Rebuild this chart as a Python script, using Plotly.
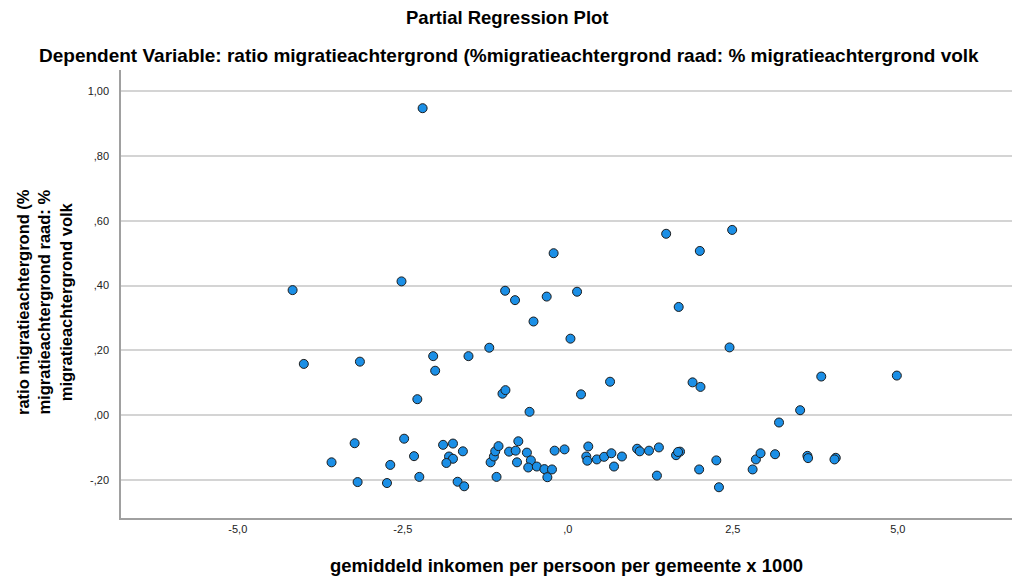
import plotly.graph_objects as go

# ---------------------------------------------------------------------------
# Data
# ---------------------------------------------------------------------------
inkomen = [
    -2.20, -4.17, -2.52, -0.215, -0.95, -0.80, -0.32, 0.14, -0.52, 0.04,
    -1.19, -2.04, -1.505, -4.00, -3.15, -2.01, -2.28, -0.99, -0.945, 0.20,
    -0.58, 1.49, 2.49, 2.00, 1.68, 2.45, 0.64, 1.89, 2.01, 3.84,
    4.985, 3.52, 3.20,
    1.70, 1.99, 2.25, 2.29, 2.80, 2.85, 2.92, 3.14, 3.63, 3.64,
    4.06, 4.04,
    -3.58, -3.23, -3.185, -2.69, -2.74, -2.48, -2.33, -2.25, -1.89, -1.74,
    -1.59, -1.80, -1.74, -1.84, -1.67, -1.57, -1.17, -1.12, -1.10, -1.05,
    -1.08,
    -0.89, -0.79, -0.75, -0.77, -0.62, -0.56, -0.60, -0.47, -0.355, -0.24,
    -0.31, -0.20, -0.05, 0.31, 0.28, 0.295, 0.44, 0.55, 0.66, 0.70,
    0.82, 1.05, 1.09, 1.23, 1.38, 1.35, 1.64, 1.67,
]
ratio = [
    0.948, 0.386, 0.413, 0.500, 0.384, 0.355, 0.366, 0.381, 0.289, 0.236,
    0.208, 0.182, 0.182, 0.158, 0.165, 0.137, 0.049, 0.066, 0.077, 0.064,
    0.010, 0.560, 0.572, 0.507, 0.334, 0.209, 0.103, 0.101, 0.087, 0.119,
    0.122, 0.015, -0.023,
    -0.113, -0.168, -0.140, -0.223, -0.168, -0.137, -0.118, -0.121, -0.126, -0.133,
    -0.132, -0.137,
    -0.146, -0.087, -0.207, -0.154, -0.210, -0.073, -0.127, -0.191, -0.092, -0.088,
    -0.112, -0.128, -0.135, -0.148, -0.206, -0.220, -0.146, -0.128, -0.112, -0.096,
    -0.191,
    -0.113, -0.110, -0.081, -0.146, -0.116, -0.140, -0.162, -0.159, -0.167, -0.168,
    -0.192, -0.110, -0.106, -0.097, -0.128, -0.141, -0.137, -0.129, -0.118, -0.159,
    -0.128, -0.104, -0.112, -0.110, -0.100, -0.187, -0.124, -0.114,
]

x_tickvals = [-5.0, -2.5, 0.0, 2.5, 5.0]
x_ticktext = ["-5,0", "-2,5", ",0", "2,5", "5,0"]
y_tickvals = [-0.2, 0.0, 0.2, 0.4, 0.6, 0.8, 1.0]
y_ticktext = ["-,20", ",00", ",20", ",40", ",60", ",80", "1,00"]

FONT = "Arial, Liberation Sans, sans-serif"
GRID = "#d4d4d4"

# plot area in page pixels: x 121..1012, y 70..518
PLOT_W = 891

fig = go.Figure()

fig.add_trace(go.Scatter(
    x=inkomen, y=ratio,
    mode="markers",
    marker=dict(size=9, color="#1b8fe6", line=dict(color="#1c1c1c", width=1)),
    showlegend=False,
    hoverinfo="x+y",
))

fig.update_layout(
    width=1014, height=586,
    paper_bgcolor="white",
    plot_bgcolor="white",
    font=dict(family=FONT, color="#000000"),
    margin=dict(l=121, r=2, t=70, b=68),
    xaxis=dict(
        range=[-6.77, 6.73],
        tickvals=x_tickvals, ticktext=x_ticktext,
        tickfont=dict(size=11, color="#222222"),
        showgrid=False, zeroline=False,
        showline=True, linecolor="#a0a0a0", linewidth=2,
        ticks="",
        title=dict(
            text="<b>gemiddeld inkomen per persoon per gemeente x 1000</b>",
            font=dict(size=18.5), standoff=25,
        ),
    ),
    yaxis=dict(
        range=[-0.318, 1.066],
        tickvals=y_tickvals, ticktext=y_ticktext,
        tickfont=dict(size=11, color="#222222"),
        showgrid=True, gridcolor=GRID, gridwidth=1.5,
        zeroline=False,
        showline=True, linecolor="#a0a0a0", linewidth=1.5,
        ticks="outside", ticklen=8, tickcolor="white",
    ),
    annotations=[
        dict(
            text="<b>Partial Regression Plot</b>",
            xref="paper", yref="paper", x=(507 - 121) / PLOT_W, y=1.0,
            xanchor="center", yanchor="middle",
            yshift=70 - 17, showarrow=False, font=dict(size=18.5),
        ),
        dict(
            text="<b>Dependent Variable: ratio migratieachtergrond (%migratieachtergrond raad: % migratieachtergrond volk</b>",
            xref="paper", yref="paper", x=(509 - 121) / PLOT_W, y=1.0,
            xanchor="center", yanchor="middle",
            yshift=70 - 55, showarrow=False, font=dict(size=19),
        ),
        dict(
            text="<b>ratio migratieachtergrond (%<br>migratieachtergrond raad: %<br>migratieachtergrond volk</b>",
            xref="paper", yref="paper", x=(44 - 121) / PLOT_W, y=0.5,
            xanchor="center", yanchor="middle", yshift=-8,
            textangle=-90, showarrow=False, font=dict(size=16.5),
        ),
    ],
)

# drop the default page margin so the figure sits at the window origin
fig.write_html(
    "out.html",
    config={"displayModeBar": False},
    post_script="document.body.style.margin='0';",
)
